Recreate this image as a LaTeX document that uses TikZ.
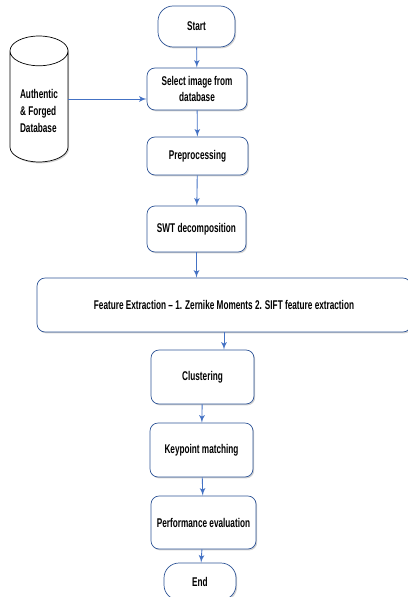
\documentclass[tikz,border=0pt]{standalone}
\usepackage{fontspec}
\setmainfont{Liberation Sans}[FakeStretch=0.65]
\usetikzlibrary{shapes, arrows, positioning, shadows}

\definecolor{boxline}{HTML}{2F5597}
\definecolor{arrowline}{HTML}{4472C4}

\begin{document}
\begin{tikzpicture}[x=0.02cm, y=-0.02cm,
    font=\fontsize{7.2}{9.5}\selectfont\bfseries,
    box/.style={rectangle, draw=boxline, fill=white, align=center, rounded corners=0.16cm, minimum width=2.06cm, minimum height=1.08cm, drop shadow={shadow xshift=0.7pt, shadow yshift=-0.8pt, opacity=0.35}},
    terminal/.style={box, rounded corners=0.3cm},
    store/.style={cylinder, shape border rotate=90, draw, fill=white, aspect=0.6, align=left, anchor=shape center, drop shadow={shadow xshift=0.7pt, shadow yshift=-0.8pt, opacity=0.35}},
    line/.style={draw=arrowline, line width=0.5pt, -latex'}]

    \useasboundingbox (0,0) rectangle (408,597);

    \node [terminal, minimum width=1.54cm, minimum height=0.82cm] (start) at (196.5,26.5) {Start};
    \node [box, minimum width=2cm, minimum height=0.84cm] (select) at (197,89) {Select image from\\database};
    \node [box, minimum width=2.02cm, minimum height=0.76cm] (prep) at (197.5,156) {Preprocessing};
    \node [box, minimum width=1.98cm, minimum height=0.92cm] (swt) at (196.5,229) {SWT decomposition};
    \node [box, minimum width=7.48cm, minimum height=1.08cm] (feat) at (224,305) {Feature Extraction -- 1. Zernike Moments 2. SIFT feature extraction};
    \node [box] (clust) at (202.5,377) {Clustering};
    \node [box] (match) at (201.5,450) {Keypoint matching};
    \node [box, minimum height=1.06cm] (perf) at (203.5,522.5) {Performance evaluation};
    \node [terminal, minimum width=1.44cm, minimum height=0.74cm] (end) at (200,581.5) {End};

    \node [store, minimum width=1.16cm, minimum height=2.52cm] (db) at (39,99) {Authentic\\\& Forged\\Database};

    \path [line] (start) -- (select);
    \path [line] (db.shape center -| db.east) -- (db.shape center -| select.west);
    \path [line] (select) -- (prep);
    \path [line] (prep) -- (swt);
    \path [line] (swt) -- (swt.south |- feat.north);
    \path [line] (feat.south) -- (feat.south |- clust.north);
    \path [line] (clust) -- (match);
    \path [line] (match) -- (perf);
    \path [line] (perf) -- (end);

\end{tikzpicture}
\end{document}
